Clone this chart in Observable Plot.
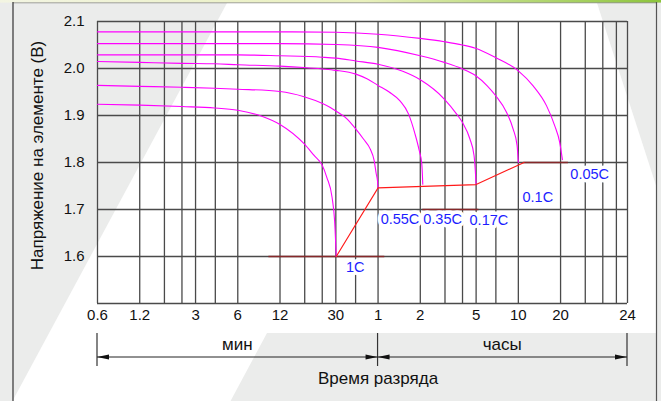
<!DOCTYPE html>
<html><head><meta charset="utf-8">
<script src="https://cdn.jsdelivr.net/npm/d3@7"></script>
<script src="https://cdn.jsdelivr.net/npm/@observablehq/plot@0.6"></script>
<style>
html,body{margin:0;padding:0;background:#ebeceb;}
#chart{width:661px;height:401px;overflow:hidden;}
svg{display:block;}
</style></head><body><div id="chart"></div>
<script>
// Discharge rates (labels)
const rates = ["1C", "0.55C", "0.35C", "0.17C", "0.1C", "0.05C"];

// Discharge curves: [time in minutes, cell voltage V]
const curve1C = [[0.6,1.924],[1.2,1.922],[2.4,1.919],[4.1,1.916],[6,1.911],[9,1.898],[12,1.881],[17.8,1.840],[21,1.815],[23.9,1.795],[25.9,1.768],[28.2,1.726],[29.4,1.676],[30.2,1.600]];
const curve055C = [[0.6,1.964],[1.2,1.962],[2.4,1.960],[4.1,1.958],[6,1.956],[12,1.951],[17.8,1.940],[23.9,1.926],[27.4,1.917],[30.2,1.909],[36,1.893],[41.7,1.871],[47.2,1.850],[52.7,1.829],[56.3,1.804],[58.2,1.776],[59.5,1.760],[60,1.746]];
const curve035C = [[0.6,2.015],[1.2,2.013],[2.4,2.011],[4.1,2.010],[6,2.008],[12,2.005],[17.8,2.002],[23.9,1.999],[30,1.996],[41.7,1.988],[50,1.978],[60,1.964],[72,1.950],[86,1.931],[99,1.903],[110,1.861],[118,1.825],[123,1.797],[125,1.754]];
const curve017C = [[0.6,2.029],[6,2.029],[12,2.027],[23.9,2.024],[30,2.022],[41.7,2.016],[60,2.009],[90,1.994],[120,1.976],[178,1.935],[218,1.903],[240,1.885],[271,1.850],[290,1.815],[296,1.783],[300,1.753]];
const curve01C = [[0.6,2.053],[12,2.053],[30,2.051],[60,2.045],[120,2.027],[178,2.013],[240,1.999],[297,1.985],[360,1.963],[414,1.942],[494,1.907],[551,1.871],[588,1.836],[600,1.800]];
const curve005C = [[0.6,2.078],[12,2.078],[30,2.077],[60,2.073],[120,2.064],[178,2.057],[240,2.050],[297,2.043],[414,2.023],[600,1.995],[765,1.963],[952,1.921],[1091,1.878],[1183,1.843],[1237,1.806]];

// End-of-discharge voltage line (red)
const endLine = [[30.2,1.600],[60,1.746],[300,1.753],[659,1.800]];

// Cut-off voltage segments (dark red)
const cutoffV = [1.6, 1.7, 1.8];
const cutoffFrom = [10, 125, 656];
const cutoffTo = [67, 314, 1365];

// Rate label positions [time min, voltage]
const labelT = [41.2, 86, 173, 370, 826, 1936];
const labelV = [1.577, 1.6785, 1.6785, 1.676, 1.725, 1.7757];

// Grid lines
const gridTimes = [0.6,1.2,1.8,2.4,3,4.15,6,12,18,24,30,41.5,60,120,180,240,300,415,600,1200,1800,2400,3000,3600];
const gridVolts = [1.5,1.6,1.7,1.8,1.9,2.0,2.1];

// Tick labels
const xTickValues = [0.6,1.2,3,6,12,30,60,120,300,600,1200,3600];
const xTickLabels = ["0.6","1.2","3","6","12","30","1","2","5","10","20","24"];
const yTickValues = [1.6,1.7,1.8,1.9,2.0,2.1];
const yTickLabels = ["1.6","1.7","1.8","1.9","2.0","2.1"];

// Axis texts
const yTitle = "Напряжение на элементе (В)";
const xTitle = "Время разряда";
const bracketLabels = ["мин", "часы"];
const bracketFrom = [0.6, 60];
const bracketTo = [60, 3600];

const curves = [curve1C, curve055C, curve035C, curve017C, curve01C, curve005C];
const cutoffs = cutoffV.map((v, i) => ({v, t1: cutoffFrom[i], t2: cutoffTo[i]}));
const rateLabels = rates.map((r, i) => ({rate: r, t: labelT[i], v: labelV[i]}));
const xTicks = xTickValues.map((t, i) => ({t, label: xTickLabels[i]}));
const yTicks = yTickValues.map((v, i) => ({v, label: yTickLabels[i]}));

const FONT = "'Liberation Sans', Arial, Helvetica, sans-serif";
const GRID = "#4a4a4a";

const plot = Plot.plot({
  width: 661, height: 401,
  marginLeft: 97, marginRight: 34, marginTop: 21, marginBottom: 98,
  style: {background: "transparent", fontFamily: FONT, overflow: "visible"},
  x: {type: "log", domain: [0.6, 3600], axis: null},
  y: {domain: [1.5, 2.1], axis: null},
  marks: [
    Plot.ruleX(gridTimes, {stroke: GRID, strokeWidth: 1.3}),
    Plot.ruleY(gridVolts, {stroke: GRID, strokeWidth: 1.3}),
    Plot.ruleY(cutoffs, {y: "v", x1: "t1", x2: "t2", stroke: "#86282a", strokeWidth: 1.7}),
    ...curves.map(c => Plot.line(c, {x: d => d[0], y: d => d[1], stroke: "#ff00ff", strokeWidth: 1.1, curve: "monotone-x"})),
    Plot.line(endLine, {x: d => d[0], y: d => d[1], stroke: "#ff1a1a", strokeWidth: 1.1}),
    Plot.text(rateLabels, {x: "t", y: "v", text: "rate", fill: "#1d1dff", stroke: "white", strokeWidth: 7, fontSize: 14.5, paintOrder: "stroke"}),
    // x tick labels, placed below the frame
    Plot.text(xTicks, {x: "t", text: "label", frameAnchor: "bottom", dy: 16, fontSize: 15, fill: "#111"}),
    // y tick labels, to the left of the frame
    Plot.text(yTicks, {y: "v", text: "label", frameAnchor: "left", textAnchor: "end", dx: -13, fontSize: 15, fill: "#111"}),
    Plot.text([yTitle], {text: d => d, frameAnchor: "left", textAnchor: "middle", rotate: -90, dx: -60, dy: -7, fontSize: 17, fill: "#111"}),
    Plot.text([xTitle], {text: d => d, x: [60], frameAnchor: "bottom", dy: 80, fontSize: 17, fill: "#111"})
  ]
});

document.getElementById("chart").appendChild(plot);

// Decorative background (page frame)
const svg = d3.select(plot);
const defs = svg.insert("defs", ":first-child");
const grad = defs.append("linearGradient").attr("id", "topbar").attr("x1", "0").attr("x2", "1");
grad.append("stop").attr("offset", "0").attr("stop-color", "#f3f5e2");
grad.append("stop").attr("offset", "0.55").attr("stop-color", "#e9f0bd");
grad.append("stop").attr("offset", "1").attr("stop-color", "#8cc43c");
const bg = svg.insert("g", "defs + *");
bg.append("rect").attr("x", 13).attr("y", 2.5).attr("width", 643.5).attr("height", 402).attr("fill", "white");
bg.append("polygon").attr("points", "13,3 227,3 13,400").attr("fill", "#ebeceb");
bg.append("polygon").attr("points", "597,3 656.5,3 656.5,187").attr("fill", "#ebeceb");
bg.append("polygon").attr("points", "267,333 656.5,333 656.5,402 230,402").attr("fill", "#ebeceb");
bg.append("rect").attr("x", 0).attr("y", 0).attr("width", 661).attr("height", 2.6).attr("fill", "url(#topbar)");
bg.append("line").attr("x1", 13).attr("x2", 13).attr("y1", 2).attr("y2", 402).attr("stroke", "#333").attr("stroke-width", 1.2);
bg.append("line").attr("x1", 656.5).attr("x2", 656.5).attr("y1", 2).attr("y2", 402).attr("stroke", "#555").attr("stroke-width", 1.2);
bg.append("line").attr("x1", 13).attr("x2", 656.5).attr("y1", 2.8).attr("y2", 2.8).attr("stroke", "#444").attr("stroke-width", 0.8).attr("stroke-opacity", 0.6);

// Time-unit brackets with arrows, using the plot's x scale
const xs = plot.scale("x");
const X = v => xs.apply(v);
const ann = svg.append("g").attr("font-family", FONT);
const yLine = 357, yTop = 333, yBot = 366, headL = 12, headW = 2.6;
const ends = Array.from(new Set([...bracketFrom, ...bracketTo]));
ends.forEach(t => {
  ann.append("line").attr("x1", X(t)).attr("x2", X(t)).attr("y1", yTop).attr("y2", yBot).attr("stroke", "#333").attr("stroke-width", 1.2);
});
bracketLabels.forEach((lab, i) => {
  const a = X(bracketFrom[i]), b = X(bracketTo[i]);
  ann.append("line").attr("x1", a).attr("x2", b).attr("y1", yLine).attr("y2", yLine).attr("stroke", "#222").attr("stroke-width", 1);
  ann.append("polygon").attr("points", `${a},${yLine} ${a + headL},${yLine - headW} ${a + headL},${yLine + headW}`).attr("fill", "#111");
  ann.append("polygon").attr("points", `${b},${yLine} ${b - headL},${yLine - headW} ${b - headL},${yLine + headW}`).attr("fill", "#111");
  ann.append("text").attr("x", X(Math.sqrt(bracketFrom[i] * bracketTo[i]))).attr("y", 350)
    .attr("text-anchor", "middle").attr("font-size", 17).attr("fill", "#111").text(lab);
});
</script></body></html>
